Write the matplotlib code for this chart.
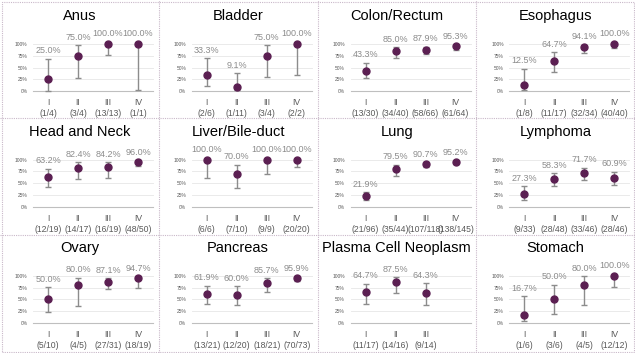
import matplotlib
matplotlib.use("Agg")
import matplotlib.pyplot as plt
from matplotlib.lines import Line2D
from matplotlib.patches import Rectangle

plt.rcParams['font.family'] = ['Liberation Sans', 'DejaVu Sans']

# --- data ---
titles = ["Anus", "Bladder", "Colon/Rectum", "Esophagus",
          "Head and Neck", "Liver/Bile-duct", "Lung", "Lymphoma",
          "Ovary", "Pancreas", "Plasma Cell Neoplasm", "Stomach"]

stages = ["I", "II", "III", "IV"]

counts = [
    ["(1/4)", "(3/4)", "(13/13)", "(1/1)"],
    ["(2/6)", "(1/11)", "(3/4)", "(2/2)"],
    ["(13/30)", "(34/40)", "(58/66)", "(61/64)"],
    ["(1/8)", "(11/17)", "(32/34)", "(40/40)"],
    ["(12/19)", "(14/17)", "(16/19)", "(48/50)"],
    ["(6/6)", "(7/10)", "(9/9)", "(20/20)"],
    ["(21/96)", "(35/44)", "(107/118)", "(138/145)"],
    ["(9/33)", "(28/48)", "(33/46)", "(28/46)"],
    ["(5/10)", "(4/5)", "(27/31)", "(18/19)"],
    ["(13/21)", "(12/20)", "(18/21)", "(70/73)"],
    ["(11/17)", "(14/16)", "(9/14)"],
    ["(1/6)", "(3/6)", "(4/5)", "(12/12)"],
]

pct = [
    [25.0, 75.0, 100.0, 100.0],
    [33.3, 9.1, 75.0, 100.0],
    [43.3, 85.0, 87.9, 95.3],
    [12.5, 64.7, 94.1, 100.0],
    [63.2, 82.4, 84.2, 96.0],
    [100.0, 70.0, 100.0, 100.0],
    [21.9, 79.5, 90.7, 95.2],
    [27.3, 58.3, 71.7, 60.9],
    [50.0, 80.0, 87.1, 94.7],
    [61.9, 60.0, 85.7, 95.9],
    [64.7, 87.5, 64.3],
    [16.7, 50.0, 80.0, 100.0],
]

ci_low = [
    [0.01, 0.28, 0.77, 0.03],
    [0.11, 0.02, 0.30, 0.34],
    [0.27, 0.71, 0.78, 0.87],
    [0.02, 0.41, 0.80, 0.91],
    [0.42, 0.59, 0.62, 0.87],
    [0.61, 0.40, 0.70, 0.84],
    [0.15, 0.65, 0.84, 0.90],
    [0.15, 0.44, 0.57, 0.46],
    [0.24, 0.36, 0.71, 0.75],
    [0.41, 0.39, 0.65, 0.89],
    [0.41, 0.64, 0.39],
    [0.03, 0.19, 0.38, 0.76],
]

ci_high = [
    [0.69, 0.97, 1.00, 1.00],
    [0.70, 0.38, 0.97, 1.00],
    [0.60, 0.93, 0.94, 0.98],
    [0.47, 0.83, 0.98, 1.00],
    [0.81, 0.94, 0.95, 0.99],
    [1.00, 0.89, 1.00, 1.00],
    [0.31, 0.89, 0.95, 0.98],
    [0.44, 0.71, 0.83, 0.74],
    [0.76, 0.96, 0.95, 0.99],
    [0.79, 0.78, 0.95, 0.99],
    [0.83, 0.97, 0.84],
    [0.57, 0.81, 0.99, 1.00],
]

W, H = 635, 353
fig = plt.figure(figsize=(W / 100, H / 100), dpi=100)
col_w, row_h = W / 4, H / 3

# per-row pixel offsets inside a panel (title centre, 100% line, 0% line)
title_y = [16, 14, 13]
y100 = [44, 42, 40.5]
y0 = [91, 89, 87.5]

border = '#c9b8c9'
fig.patches.append(Rectangle((1.5 / W, 1.5 / H), 1 - 3 / W, 1 - 3 / H,
                             transform=fig.transFigure, fill=False,
                             ec=border, lw=0.8, ls=(0, (1, 1))))
for c in range(1, 4):
    fig.add_artist(Line2D([c * col_w / W] * 2, [0, 1], color=border,
                          lw=0.8, ls=(0, (1, 1))))
for r in range(1, 3):
    fig.add_artist(Line2D([0, 1], [1 - r * row_h / H] * 2, color=border,
                          lw=0.8, ls=(0, (1, 1))))

for i, title in enumerate(titles):
    r, c = divmod(i, 4)
    left, top = c * col_w, r * row_h
    fig.text((left + col_w / 2) / W, 1 - (top + title_y[r]) / H, title,
             ha='center', va='center', fontsize=10.5, color='black')

    ax = fig.add_axes([(left + 33) / W, 1 - (top + y0[r]) / H,
                       120 / W, (y0[r] - y100[r]) / H])
    ax.set_xlim(-0.5, 3.5)
    ax.set_ylim(0, 1)
    for s in ax.spines.values():
        s.set_visible(False)

    yt = [0, 0.25, 0.5, 0.75, 1.0]
    for y in yt:
        ax.axhline(y, color='#bfbfbf' if y == 0 else '#e6e6e6',
                   lw=0.8 if y == 0 else 0.6, zorder=0, clip_on=False)
    ax.set_yticks(yt)
    ax.set_yticklabels([f"{int(y * 100)}%" for y in yt], fontsize=3.5,
                       color='#595959')

    n = len(pct[i])
    xs = list(range(n))
    ax.set_xticks(xs)
    ax.set_xticklabels([f"{stages[k]}\n{counts[i][k]}" for k in xs],
                       fontsize=6.2, color='#595959', linespacing=1.3)
    ax.tick_params(axis='x', length=0, pad=5)
    ax.tick_params(axis='y', length=0, pad=4)

    p = [v / 100 for v in pct[i]]
    lo = [p[k] - ci_low[i][k] for k in xs]
    hi = [ci_high[i][k] - p[k] for k in xs]
    eb = ax.errorbar(xs, p, yerr=[lo, hi], fmt='none', ecolor='#8c8c8c',
                     elinewidth=1.0, capsize=2.5, capthick=1.0, zorder=2)
    for a in eb.lines[1] + eb.lines[2]:
        a.set_clip_on(False)
    ax.plot(xs, p, 'o', ms=5, color='#5b1f52', zorder=3, clip_on=False)

    for k in xs:
        ax.annotate(f"{pct[i][k]:.1f}%", (k, ci_high[i][k]),
                    xytext=(0, 2.5 if ci_high[i][k] < 1 else 4),
                    textcoords='offset points', ha='center', va='bottom',
                    fontsize=6.5, color='#8c8c8c', annotation_clip=False)

fig.savefig("out.png", dpi=100)
